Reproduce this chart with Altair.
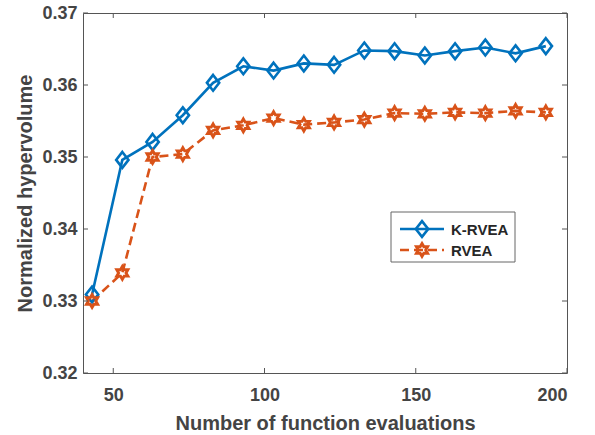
import altair as alt
import pandas as pd

evals = [43, 53, 63, 73, 83, 93, 103, 113, 123, 133, 143, 153, 163, 173, 183, 193]
krvea = [0.3309, 0.3496, 0.3521, 0.3558, 0.3603, 0.3626, 0.3620, 0.3630,
         0.3628, 0.3648, 0.3647, 0.3641, 0.3647, 0.3652, 0.3644, 0.3654]
rvea = [0.3300, 0.3339, 0.3500, 0.3504, 0.3537, 0.3544, 0.3554, 0.3545,
        0.3548, 0.3552, 0.3561, 0.3560, 0.3562, 0.3561, 0.3564, 0.3562]
series_names = ["K-RVEA", "RVEA"]
x_ticks = [50, 100, 150, 200]
y_ticks = [0.32, 0.33, 0.34, 0.35, 0.36, 0.37]

BLUE = "#0072BD"
ORANGE = "#D95319"
AXC = "#555555"
TXT = "#444444"
FONT = "Liberation Sans"
DIAMOND = "M0,-1L0.78,0L0,1L-0.78,0Z"
HEX = ("M0,-1L0.2887,-0.5L0.866,-0.5L0.5774,0L0.866,0.5L0.2887,0.5L0,1"
       "L-0.2887,0.5L-0.866,0.5L-0.5774,0L-0.866,-0.5L-0.2887,-0.5Z")

W, H = 484, 360

dk = pd.DataFrame({"x": evals, "y": krvea})
dr = pd.DataFrame({"x": evals, "y": rvea})
dxt = pd.DataFrame({"t": x_ticks})
dyt = pd.DataFrame({"t": y_ticks})

xs = alt.Scale(domain=[40, 200], nice=False, zero=False)
ys = alt.Scale(domain=[0.32, 0.37], nice=False, zero=False)

axis_common = dict(grid=False, domain=False, ticks=False, tickSize=0,
                   labelFont=FONT, labelFontWeight="bold", labelFontSize=18,
                   labelColor=TXT, titleFont=FONT, titleFontWeight="bold",
                   titleFontSize=20, titleColor=TXT)

X = alt.X("x:Q", scale=xs, title="Number of function evaluations",
          axis=alt.Axis(values=x_ticks, labelPadding=13, titlePadding=9, **axis_common))
Y = alt.Y("y:Q", scale=ys, title="Normalized hypervolume",
          axis=alt.Axis(values=y_ticks, format=".2f", labelPadding=6, titlePadding=6, **axis_common))

k_line = alt.Chart(dk).mark_line(color=BLUE, strokeWidth=2.6).encode(x=X, y=Y)
k_pts = alt.Chart(dk).mark_point(shape=DIAMOND, size=250, filled=False, color=BLUE,
                                 strokeWidth=2.6, opacity=1).encode(x="x:Q", y="y:Q")
r_line = alt.Chart(dr).mark_line(color=ORANGE, strokeWidth=2.6, strokeDash=[9, 5]).encode(x="x:Q", y="y:Q")
r_pts = alt.Chart(dr).mark_point(shape=HEX, size=165, filled=False, color=ORANGE,
                                 strokeWidth=2.9, opacity=1).encode(x="x:Q", y="y:Q")

tick_style = dict(color=AXC, strokeWidth=1)
xt_bot = alt.Chart(dxt).mark_rule(**tick_style).encode(x="t:Q", y=alt.value(H), y2=alt.value(H - 5))
xt_top = alt.Chart(dxt).mark_rule(**tick_style).encode(x="t:Q", y=alt.value(0), y2=alt.value(5))
yt_left = alt.Chart(dyt).mark_rule(**tick_style).encode(y="t:Q", x=alt.value(0), x2=alt.value(5))
yt_right = alt.Chart(dyt).mark_rule(**tick_style).encode(y="t:Q", x=alt.value(W), x2=alt.value(W - 5))

# legend
leg_box = alt.Chart(pd.DataFrame({"n": [0]})).mark_rect(fill="white", stroke="#666666", strokeWidth=1).encode(
    x=alt.value(308), x2=alt.value(432), y=alt.value(199), y2=alt.value(249))
leg_df = pd.DataFrame({"name": series_names})
lk = leg_df[leg_df.name == "K-RVEA"]
lr = leg_df[leg_df.name == "RVEA"]
leg_k_line = alt.Chart(lk).mark_rule(color=BLUE, strokeWidth=2.6).encode(
    x=alt.value(317), x2=alt.value(361), y=alt.value(216))
leg_k_pt = alt.Chart(lk).mark_point(shape=DIAMOND, size=250, filled=False, color=BLUE,
                                    strokeWidth=2.6, opacity=1).encode(x=alt.value(339), y=alt.value(216))
leg_k_txt = alt.Chart(lk).mark_text(align="left", baseline="middle", font=FONT, fontWeight="bold",
                                    fontSize=15, color="#262626").encode(
    x=alt.value(368), y=alt.value(216.5), text="name:N")
leg_r_line = alt.Chart(lr).mark_rule(color=ORANGE, strokeWidth=2.6, strokeDash=[9, 5]).encode(
    x=alt.value(317), x2=alt.value(361), y=alt.value(237))
leg_r_pt = alt.Chart(lr).mark_point(shape=HEX, size=165, filled=False, color=ORANGE,
                                    strokeWidth=2.9, opacity=1).encode(x=alt.value(339), y=alt.value(237))
leg_r_txt = alt.Chart(lr).mark_text(align="left", baseline="middle", font=FONT, fontWeight="bold",
                                    fontSize=15, color="#262626").encode(
    x=alt.value(368), y=alt.value(237.5), text="name:N")

chart = alt.layer(
    k_line, r_line, k_pts, r_pts,
    xt_bot, xt_top, yt_left, yt_right,
    leg_box, leg_k_line, leg_k_pt, leg_k_txt, leg_r_line, leg_r_pt, leg_r_txt,
).properties(
    width=W, height=H,
    autosize=alt.AutoSizeParams(type="none"),
    padding={"left": 83, "top": 13, "right": 28, "bottom": 62},
    background="white",
).configure_view(stroke=AXC, strokeWidth=1)

chart.save("out.html", embed_options={"renderer": "svg", "actions": False})
